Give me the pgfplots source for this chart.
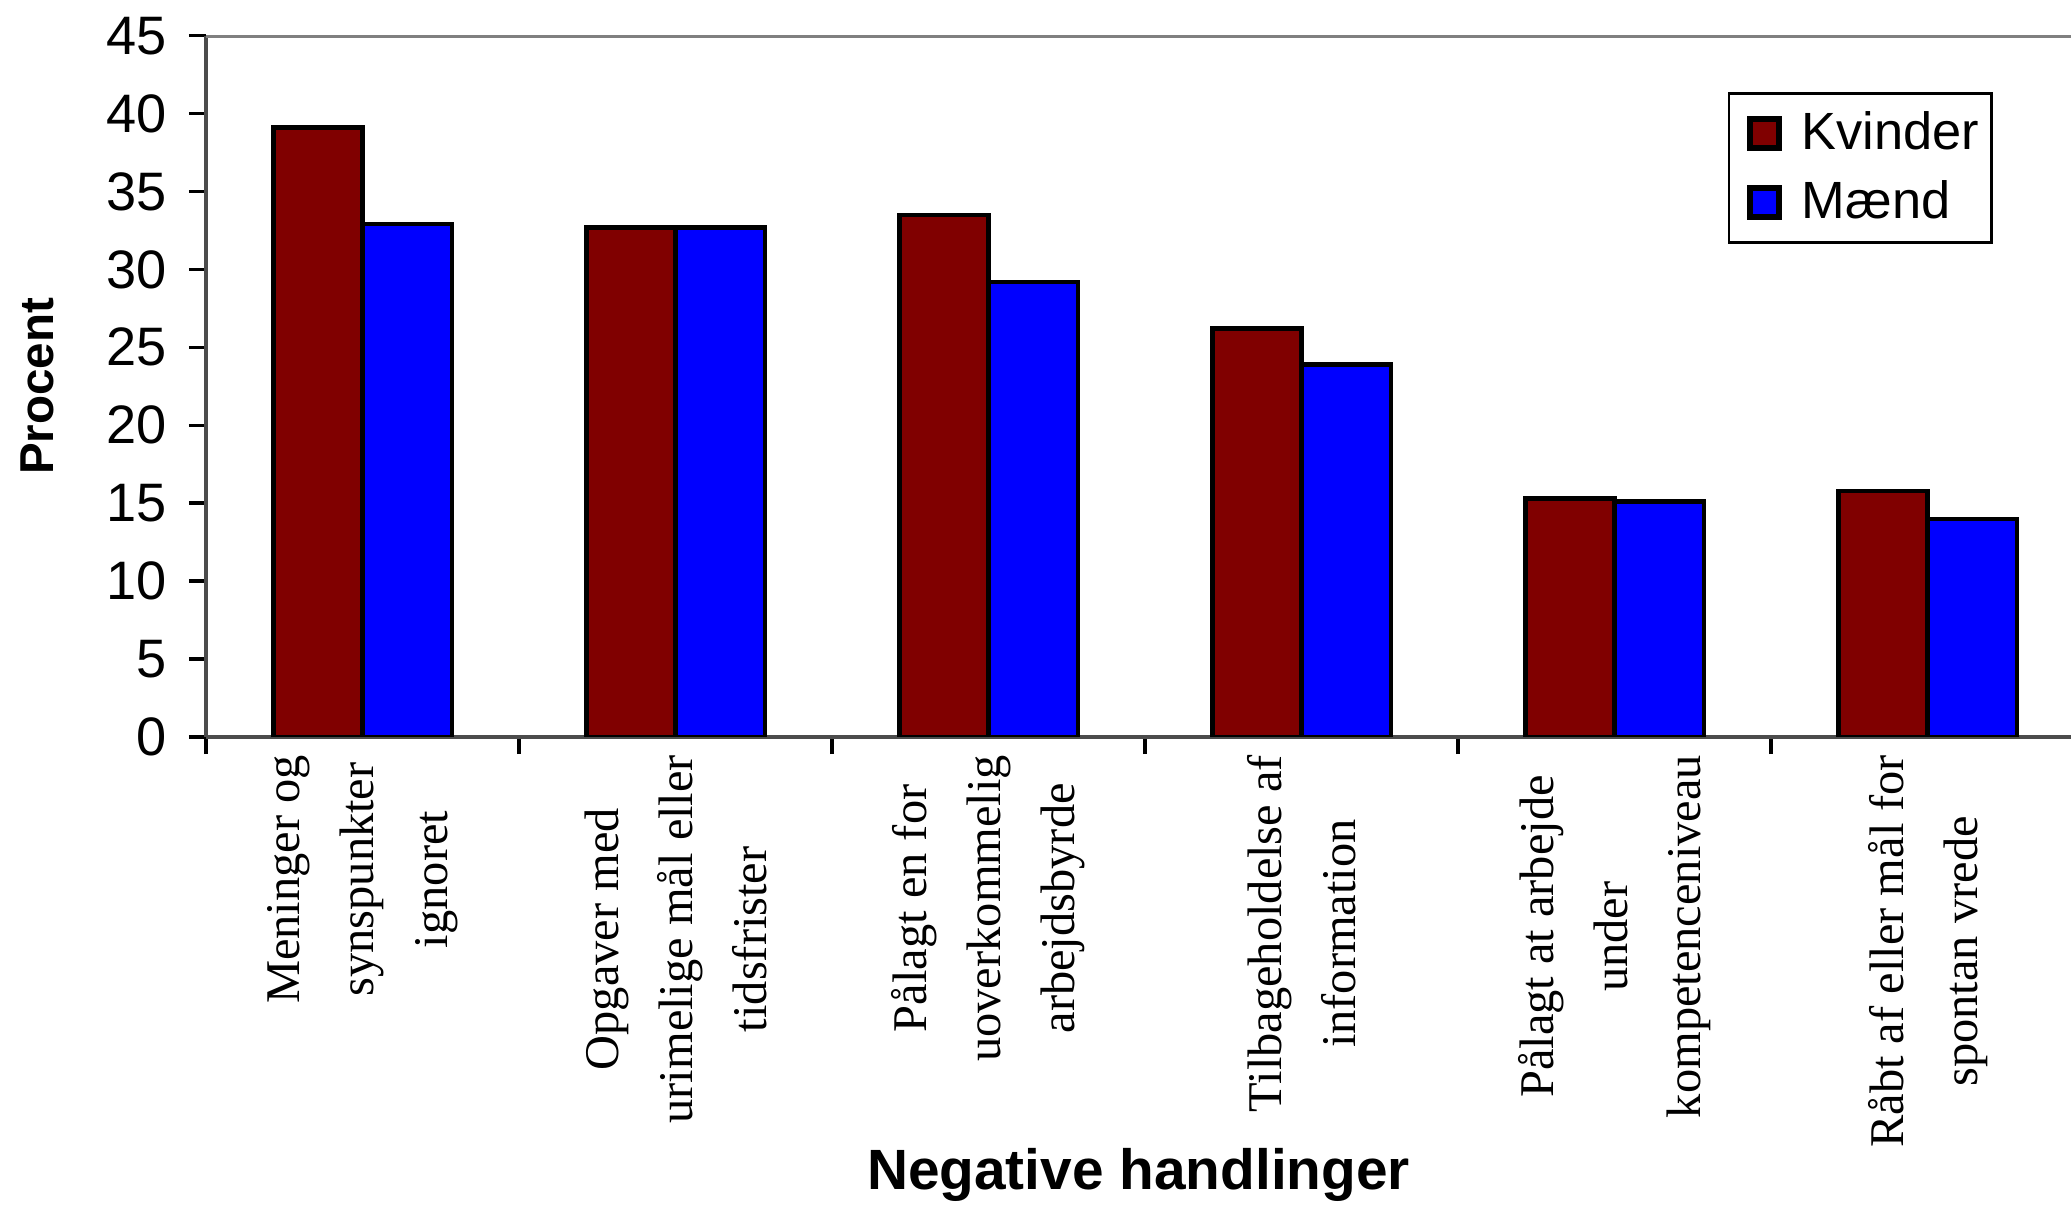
\documentclass[border=0pt]{standalone}
\usepackage{pgfplots}
\pgfplotsset{compat=1.18}
\usepackage{fontspec}
\setmainfont{Liberation Sans}
\newfontfamily\timesfont{Liberation Serif}

\definecolor{kvinder}{HTML}{800000}
\definecolor{maend}{HTML}{0000FF}

\begin{document}
\begin{tikzpicture}
\begin{axis}[
    scale only axis,
    width=423.6pt, height=159.3pt,
    xmin=-0.5, xmax=5.458,
    ymin=0, ymax=45,
    ytick={0,5,...,45},
    xtick={0,...,5},
    xticklabels={
        {Meninger og\\synspunkter\\ignoret},
        {Opgaver med\\urimelige mål eller\\tidsfrister},
        {Pålagt en for\\uoverkommelig\\arbejdsbyrde},
        {Tilbageholdelse af\\information},
        {Pålagt at arbejde\\under\\kompetenceniveau},
        {Råbt af eller mål for\\spontan vrede}},
    minor xtick={-0.5,0.5,1.5,2.5,3.5,4.5},
    axis x line*=bottom, axis y line*=left,
    axis line style={-, black!70, line width=1pt},
    tick align=outside,
    major tick length=3.9pt, minor tick length=3.9pt,
    tick style={black, line width=0.8pt},
    major x tick style={draw=none},
    /pgf/number format/assume math mode=true,
    yticklabel style={font=\fontsize{12.3}{14}\selectfont, xshift=-1.5pt},
    xticklabel style={rotate=90, anchor=east, align=center, inner xsep=0pt,
        font=\timesfont\fontsize{11}{16.8}\selectfont},
    ylabel={Procent},
    ylabel style={at={(rel axis cs:-0.0906,0.5)}, anchor=center,
        font=\bfseries\fontsize{10.8}{12}\selectfont},
    xlabel={Negative handlinger},
    xlabel style={at={(rel axis cs:0.5,-0.625)}, anchor=center,
        font=\bfseries\fontsize{12.9}{15}\selectfont},
    ybar=0pt, bar width=0.285,
    legend style={at={(rel axis cs:0.958,0.919)}, anchor=north east,
        draw=black, line width=0.6pt,
        font=\fontsize{11.9}{13}\selectfont,
        inner xsep=0pt, inner ysep=2pt, row sep=1.5pt,
        nodes={inner xsep=2.7pt},
        /tikz/every odd column/.append style={column sep=1.8pt}},
    legend cell align=left,
    sq legend/.style={legend image code/.code={
        \path (-4.2pt,0pt);
        \draw[##1, line width=1.4pt] (0pt,-3.3pt) rectangle (6.6pt,3.3pt);}},
]
\addplot[fill=kvinder, draw=black, line width=1pt, sq legend]
    coordinates {(0,39.1) (1,32.7) (2,33.5) (3,26.2) (4,15.3) (5,15.8)};
\addplot[fill=maend, draw=black, line width=1pt, sq legend]
    coordinates {(0,32.9) (1,32.7) (2,29.2) (3,23.9) (4,15.1) (5,14.0)};
\legend{Kvinder, Mænd}

\draw[gray, line width=1pt] (rel axis cs:0,1) -- (rel axis cs:1,1);
\coordinate (ll) at (rel axis cs:0,0);
\coordinate (ur) at (rel axis cs:1,1);
\end{axis}
\pgfresetboundingbox
\path[use as bounding box] ([xshift=-46.8pt,yshift=-106.2pt]ll) rectangle ([yshift=8.1pt]ur);
\end{tikzpicture}
\end{document}
